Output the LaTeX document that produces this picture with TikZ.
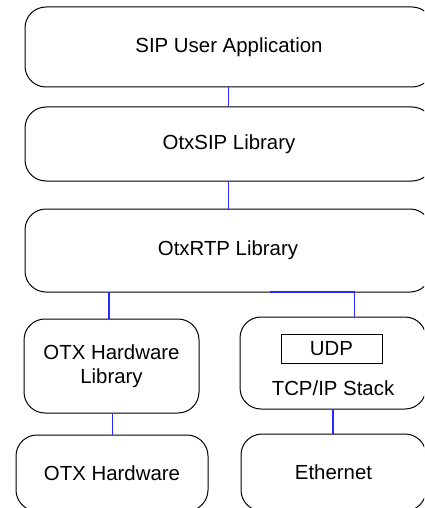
\documentclass[tikz,border=0pt]{standalone}
\usepackage{fontspec}
\setmainfont{Liberation Sans}
\definecolor{connblue}{RGB}{40,40,255}
\begin{document}
\begin{tikzpicture}[x=1pt,y=-1pt,
  blk/.style={draw=black,line width=1pt,rounded corners=21pt,inner sep=0pt,
    font=\fontsize{20.4}{24}\selectfont,align=center},
  udpbox/.style={draw=black,line width=1pt,inner sep=0pt,
    font=\fontsize{20.4}{24}\selectfont},
  txt/.style={inner sep=0pt,font=\fontsize{20.4}{24}\selectfont},
  conn/.style={draw=connblue,line width=1.3pt}]
\useasboundingbox (0,0) rectangle (424,508);
\clip (0,0) rectangle (424,508);
\node[blk,minimum width=408pt,minimum height=80pt] (app) at (229,47) {SIP User Application};
\node[blk,minimum width=408pt,minimum height=74pt] (sip) at (229,144) {OtxSIP Library};
\node[blk,minimum width=406pt,minimum height=83pt] (rtp) at (228,250.5) {OtxRTP Library};
\node[blk,minimum width=175pt,minimum height=94pt] (hwlib) at (111.5,366) {OTX Hardware\\Library};
\node[blk,minimum width=186pt,minimum height=92pt] (tcp) at (333,363) {};
\node[udpbox,minimum width=101pt,minimum height=29pt] (udp) at (331.5,348.5) {UDP};
\node[txt] (tcptxt) at (333,388) {TCP/IP Stack};
\node[blk,minimum width=192pt,minimum height=76pt] (hw) at (112,473) {OTX Hardware};
\node[blk,minimum width=185pt,minimum height=77pt] (eth) at (333.5,472.5) {Ethernet};
\coordinate (c1) at (228.5,0);
\coordinate (l1) at (109,292);
\coordinate (r1) at (270,292);
\coordinate (r2) at (354.5,0);
\coordinate (c3) at (112.5,0);
\coordinate (c4) at (333,0);
\draw[conn] (c1 |- app.south) -- (c1 |- sip.north);
\draw[conn] (c1 |- sip.south) -- (c1 |- rtp.north);
\draw[conn] (l1) -- (l1 |- hwlib.north);
\draw[conn] (r1) -| (r2 |- tcp.north);
\draw[conn] (c3 |- hwlib.south) -- (c3 |- hw.north);
\draw[conn] (c4 |- tcp.south) -- (c4 |- eth.north);
\end{tikzpicture}
\end{document}
